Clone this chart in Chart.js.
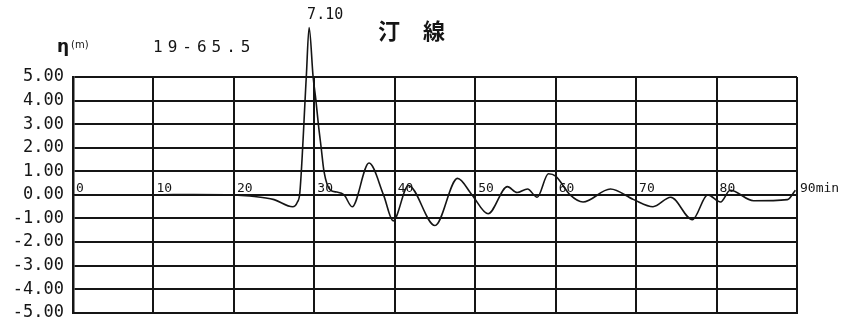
<!DOCTYPE html>
<html>
<head>
<meta charset="utf-8">
<script src="https://cdn.jsdelivr.net/npm/chart.js@4.4.1/dist/chart.umd.min.js"></script>
<style>
  html, body { margin: 0; padding: 0; background: #fff; overflow: hidden; }
  #wrap { width: 853px; height: 322px; overflow: hidden; }
</style>
</head>
<body>
<div id="wrap"><canvas id="tideChart" width="853" height="332"></canvas></div>
<script>
// time (min) and water level eta (m)
const times = [0, 5, 10, 15, 20, 22, 25, 27.3, 27.9, 28.2, 29.0, 29.35, 29.85, 30.2, 30.5, 30.85, 31.2, 32.0, 32.8, 33.7,
  34.7, 36.8, 38.6, 39.8, 41.7, 45.0, 47.8, 49.6, 51.6, 54.0, 55.2, 56.5, 57.7, 59.1, 60.0, 61.8,
  63.4, 66.8, 69.7, 72.1, 74.3, 77.0, 78.9, 80.5, 81.7, 84.6, 88.8, 89.8];
const eta = [0, 0, 0, 0.02, 0, -0.05, -0.2, -0.5, -0.3, 0.1, 5.0, 7.1, 5.0, 4.0, 3.0, 2.0, 1.0, 0.2, 0.12, 0,
  -0.5, 1.35, 0, -1.1, 0.4, -1.3, 0.7, 0, -0.8, 0.35, 0.1, 0.25, -0.1, 0.9, 0.8, 0,
  -0.3, 0.25, -0.2, -0.5, -0.1, -1.05, 0, -0.3, 0.2, -0.25, -0.2, 0.2];

const xTicks = [0, 10, 20, 30, 40, 50, 60, 70, 80, 90];
const xTickLabels = ["0", "10", "20", "30", "40", "50", "60", "70", "80", "90min"];
const yTicks = [5, 4, 3, 2, 1, 0, -1, -2, -3, -4, -5];
const yTickLabels = ["5.00", "4.00", "3.00", "2.00", "1.00", "0.00", "-1.00", "-2.00", "-3.00", "-4.00", "-5.00"];

const titleChars = ["汀", "線"];
const yAxisName = "η";
const yAxisUnit = "(m)";
const recordId = "19-65.5";

const points = times.map((t, i) => ({ x: t, y: eta[i] }));
const ink = "#151515";

// labels drawn on the chart (x ticks on the zero line, peak value, headings)
const annotate = {
  id: "annotate",
  afterDraw(chart) {
    const { ctx, scales } = chart;
    const xs = scales.x, ys = scales.y;
    const y0 = ys.getPixelForValue(0);
    ctx.save();
    ctx.fillStyle = ink;
    ctx.textAlign = "left";
    ctx.textBaseline = "bottom";
    ctx.font = "13px 'DejaVu Sans Mono'";
    xTicks.forEach((v, i) => {
      ctx.fillText(xTickLabels[i], xs.getPixelForValue(v) + 3, y0);
    });

    // peak value
    let pk = 0;
    eta.forEach((v, i) => { if (v > eta[pk]) pk = i; });
    ctx.font = "15px 'DejaVu Sans Mono'";
    ctx.textBaseline = "alphabetic";
    ctx.fillText(eta[pk].toFixed(2), xs.getPixelForValue(times[pk]) - 2, ys.getPixelForValue(eta[pk]) - 8);

    // title
    ctx.font = "bold 22px 'Noto Sans CJK JP'";
    ctx.fillText(titleChars[0], 378, 39);
    ctx.fillText(titleChars[1], 423, 39);

    // axis name and record id
    ctx.font = "bold 17px 'DejaVu Sans'";
    ctx.fillText(yAxisName, 57, 52);
    ctx.font = "10px 'DejaVu Sans'";
    ctx.fillText(yAxisUnit, 71, 48);
    ctx.font = "16px 'DejaVu Sans Mono'";
    ctx.letterSpacing = "5px";
    ctx.fillText(recordId, 153, 52);
    ctx.restore();
  }
};

new Chart(document.getElementById("tideChart"), {
  type: "line",
  data: {
    datasets: [
      {
        data: points,
        borderColor: ink,
        borderWidth: 1.6,
        pointRadius: 0,
        cubicInterpolationMode: "monotone",
        fill: false,
        clip: false
      }
    ]
  },
  options: {
    responsive: false,
    animation: false,
    layout: { padding: { top: 77, right: 56, bottom: 16, left: 0 } },
    plugins: { legend: { display: false }, tooltip: { enabled: false } },
    scales: {
      x: {
        type: "linear",
        min: 0,
        max: 90,
        afterBuildTicks: (s) => { s.ticks = xTicks.map((v) => ({ value: v })); },
        afterFit: (s) => { s.height = 0; },
        ticks: { display: false },
        grid: { color: ink, lineWidth: 2, drawTicks: false },
        border: { color: ink, width: 2 }
      },
      y: {
        min: -5,
        max: 5,
        afterFit: (s) => { s.width = 73; },
        ticks: {
          stepSize: 1,
          padding: 9,
          color: ink,
          font: { family: "'DejaVu Sans Mono'", size: 17 },
          callback: (v) => yTickLabels[yTicks.indexOf(Math.round(v))]
        },
        grid: { color: ink, lineWidth: 2, drawTicks: false },
        border: { color: ink, width: 2.5 }
      }
    }
  },
  plugins: [annotate]
});
</script>
</body>
</html>
